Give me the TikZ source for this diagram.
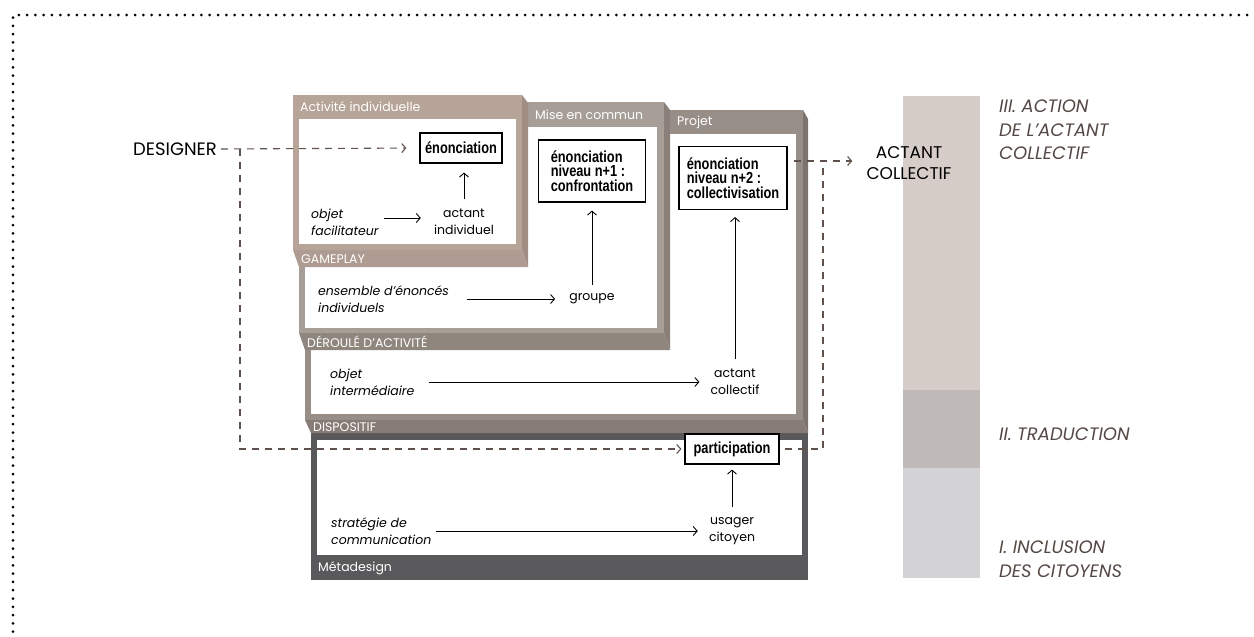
\documentclass[tikz,border=0pt]{standalone}
\usepackage{fontspec}
\setmainfont{Poppins}
\newfontfamily\bfbox{Liberation Sans}[FakeStretch=0.8]
\usetikzlibrary{arrows.meta}
\definecolor{cA}{RGB}{182,164,153}
\definecolor{cAs}{RGB}{160,142,132}
\definecolor{cAb}{RGB}{174,155,145}
\definecolor{cB}{RGB}{166,158,151}
\definecolor{cBs}{RGB}{138,128,121}
\definecolor{cBb}{RGB}{143,134,126}
\definecolor{cC}{RGB}{151,142,136}
\definecolor{cCs}{RGB}{124,115,109}
\definecolor{cCb}{RGB}{134,124,117}
\definecolor{cD}{RGB}{89,89,91}
\definecolor{dashc}{RGB}{95,82,77}
\definecolor{barA}{RGB}{214,205,201}
\definecolor{barB}{RGB}{191,185,184}
\definecolor{barC}{RGB}{211,211,213}
\definecolor{coltext}{RGB}{84,72,68}
\tikzset{
  lbl/.style={font=\fontsize{12.5}{17}\selectfont, align=center, inner sep=0pt},
  itl/.style={font=\fontsize{12.5}{17}\selectfont\itshape, align=left, anchor=west, inner sep=0pt},
  hdr/.style={font=\fontsize{12.5}{14}\selectfont, text=white, anchor=west, inner sep=0pt},
  bbox/.style={draw=black, line width=1.1pt, fill=white, font=\bfbox\bfseries\fontsize{16}{14.5}\selectfont, align=left, inner sep=4pt},
  arr/.style={line width=0.9pt, -{Straight Barb[length=4pt,width=9pt]}},
  dsh/.style={draw=dashc, line width=1.1pt, dash pattern=on 7pt off 6pt},
  dsharr/.style={dsh, -{Straight Barb[length=4pt,width=9pt]}},
  coll/.style={font=\fontsize{18}{23.5}\selectfont\itshape, text=coltext, align=left, anchor=west, inner sep=0pt}
}
\begin{document}
\begin{tikzpicture}[x=1pt,y=-1pt]
\useasboundingbox (0,0) rectangle (1254,637);
% dotted frame
\draw[line width=3pt, line cap=round, dash pattern=on 0pt off 8.3pt] (13,640) -- (13,15) -- (1258,15);
% right column bar
\fill[barA] (903,96) rectangle (980,390);
\fill[barB] (903,390) rectangle (980,468);
\fill[barC] (903,468) rectangle (980,578);
% D : Metadesign
\fill[cD] (311,433) rectangle (808,580);
\fill[white] (317,440) rectangle (802,555);
% C : Projet
\fill[cC] (305,110) rectangle (803,420);
\fill[white] (311,134) rectangle (796,414);
\fill[cCs] (803,110) -- (808,119) -- (808,433) -- (803,420) -- cycle;
\fill[cCb] (305,420) -- (803,420) -- (808,433) -- (311,433) -- cycle;
% B : Mise en commun
\fill[cB] (299,102) rectangle (664,333);
\fill[white] (305,127) rectangle (657,328);
\fill[cBs] (664,102) -- (670,110) -- (670,350) -- (664,333) -- cycle;
\fill[cBb] (299,333) -- (664,333) -- (670,350) -- (305,350) -- cycle;
% A : Activite individuelle
\fill[cA] (293,95) rectangle (522,250);
\fill[white] (299,119) rectangle (516,244);
\fill[cAs] (522,95) -- (528,103) -- (528,267) -- (522,250) -- cycle;
\fill[cAb] (293,250) -- (522,250) -- (528,267) -- (299,267) -- cycle;
% headers
\node[hdr] (hA) at (300,107) {Activité individuelle};
\node[hdr] (hB) at (535,115) {Mise en commun};
\node[hdr] (hC) at (677,122) {Projet};
\node[hdr] (fA) at (301,259) {GAMEPLAY};
\node[hdr] (fB) at (307,342) {DÉROULÉ D’ACTIVITÉ};
\node[hdr] (fC) at (313,427) {DISPOSITIF};
\node[hdr] (fD) at (318,568) {Métadesign};
% content nodes
\node[lbl, font=\fontsize{18}{20}\selectfont] (designer) at (175,149) {DESIGNER};
\node[bbox, minimum width=82pt, minimum height=30pt] (en1) at (461,148) {énonciation};
\node[lbl] (actind) at (464,222) {actant\\individuel};
\node[itl] (objfac) at (311,222) {objet\\facilitateur};
\node[bbox, minimum width=107pt, minimum height=62pt] (en2) at (592,171) {énonciation\\niveau n+1 :\\confrontation};
\node[lbl] (groupe) at (592,299) {groupe};
\node[itl] (ens) at (318,299) {ensemble d’énoncés\\individuels};
\node[bbox, minimum width=108pt, minimum height=63pt] (en3) at (733,178) {énonciation\\niveau n+2 :\\collectivisation};
\node[lbl] (actcol) at (735,382) {actant\\collectif};
\node[itl] (objint) at (330,382) {objet\\intermédiaire};
\node[bbox, minimum width=94pt, minimum height=30pt] (part) at (732,449) {participation};
\node[lbl] (usager) at (732,531) {usager\\citoyen};
\node[itl] (strat) at (331,531) {stratégie de\\communication};
\node[lbl, font=\fontsize{17}{21}\selectfont] (actantc) at (909,163) {ACTANT\\COLLECTIF};
% right column labels
\node[coll] (t3) at (999,130) {III. ACTION\\DE L’ACTANT\\COLLECTIF};
\node[coll] (t2) at (999,434) {II. TRADUCTION};
\node[coll] (t1) at (999,559) {I. INCLUSION\\DES CITOYENS};
% solid arrows
\draw[arr, shorten <=5pt, shorten >=13pt] ([yshift=4pt]objfac.east) -- ([yshift=4pt]objfac.east -| actind.west);
\draw[arr, shorten <=10pt, shorten >=9pt] (actind.north) -- (actind.north |- en1.south);
\draw[arr, shorten <=18pt, shorten >=14pt] (ens.east |- groupe.west) -- (groupe.west);
\draw[arr, shorten <=9pt, shorten >=8pt] (groupe.north) -- (groupe.north |- en2.south);
\draw[arr, shorten <=14pt, shorten >=11pt] (objint.east) -- (objint.east -| actcol.west);
\draw[arr, shorten <=10pt, shorten >=7pt] (actcol.north) -- (actcol.north |- en3.south);
\draw[arr, shorten <=5pt, shorten >=11pt] (strat.east) -- (strat.east -| usager.west);
\draw[arr, shorten <=10pt, shorten >=5pt] (usager.north) -- (usager.north |- part.south);
% dashed connectors
\coordinate (jl) at (240,149);
\coordinate (jr) at (823,161);
\draw[dsharr, shorten <=4pt, shorten >=13pt] (designer.east) -- (en1.west);
\draw[dsharr, shorten >=3pt] (jl) |- (part.west);
\draw[dsh, shorten <=5pt] (part.east) -| (jr);
\draw[dsharr, shorten <=6pt, shorten >=14pt] (en3.east |- jr) -- (actantc.west |- jr);
\end{tikzpicture}
\end{document}
